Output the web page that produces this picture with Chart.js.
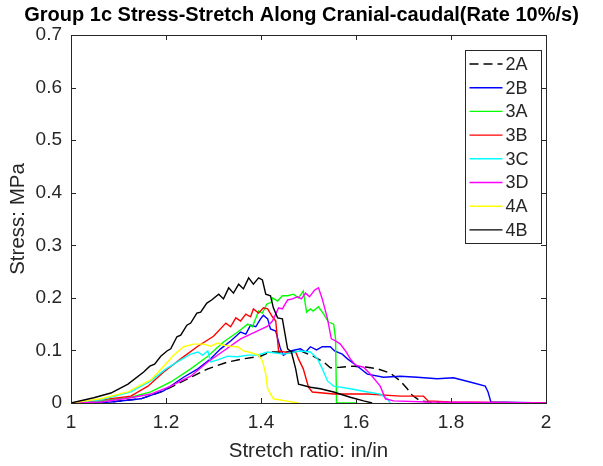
<!DOCTYPE html>
<html>
<head>
<meta charset="utf-8">
<title>Group 1c Stress-Stretch</title>
<script src="https://cdn.jsdelivr.net/npm/chart.js@4.4.1/dist/chart.umd.min.js"></script>
<style>
  html, body { margin: 0; padding: 0; background: #fff; }
  #wrap { width: 603px; height: 466px; }
</style>
</head>
<body>
<div id="wrap"><canvas id="chart" width="603" height="466"></canvas></div>
<script>
// Stress-stretch curves: [stretch ratio, stress MPa]
const seriesLabels = ['2A', '2B', '3A', '3B', '3C', '3D', '4A', '4B'];
const xTicks = [1, 1.2, 1.4, 1.6, 1.8, 2];
const yTicks = [0, 0.1, 0.2, 0.3, 0.4, 0.5, 0.6, 0.7];

const curve2A = [[1.000,0],[1.084,0.002],[1.147,0.008],[1.195,0.023],[1.246,0.046],[1.288,0.065],[1.330,0.078],[1.363,0.084],[1.399,0.089],[1.420,0.097],[1.447,0.097],[1.483,0.099],[1.510,0.089],[1.532,0.078],[1.546,0.067],[1.567,0.068],[1.595,0.070],[1.624,0.068],[1.645,0.065],[1.672,0.057],[1.693,0.042],[1.708,0.027],[1.718,0.015],[1.735,0.004],[1.777,0]];
const curve2B = [[1.000,0],[1.084,0.002],[1.147,0.008],[1.195,0.023],[1.237,0.049],[1.267,0.065],[1.294,0.084],[1.315,0.103],[1.336,0.118],[1.357,0.135],[1.368,0.131],[1.378,0.148],[1.389,0.145],[1.399,0.160],[1.405,0.167],[1.414,0.160],[1.420,0.141],[1.431,0.137],[1.441,0.103],[1.447,0.091],[1.462,0.099],[1.483,0.103],[1.494,0.097],[1.504,0.107],[1.517,0.101],[1.529,0.107],[1.546,0.107],[1.555,0.099],[1.571,0.093],[1.582,0.084],[1.603,0.070],[1.624,0.055],[1.658,0.049],[1.693,0.051],[1.729,0.049],[1.771,0.046],[1.805,0.048],[1.840,0.040],[1.872,0.032],[1.878,0.021],[1.884,0.002],[2.000,0]];
const curve3A = [[1.000,0],[1.063,0.004],[1.126,0.011],[1.168,0.021],[1.210,0.040],[1.252,0.065],[1.288,0.089],[1.321,0.116],[1.351,0.135],[1.372,0.150],[1.382,0.145],[1.395,0.175],[1.403,0.171],[1.412,0.188],[1.422,0.192],[1.424,0.200],[1.435,0.194],[1.445,0.204],[1.456,0.204],[1.468,0.207],[1.479,0.200],[1.489,0.213],[1.496,0.173],[1.504,0.179],[1.510,0.175],[1.521,0.183],[1.532,0.169],[1.542,0.154],[1.553,0.150],[1.557,0.122],[1.559,0],[1.600,0]];
const curve3B = [[1.000,0],[1.063,0.006],[1.126,0.013],[1.162,0.032],[1.195,0.059],[1.231,0.084],[1.267,0.108],[1.300,0.127],[1.326,0.152],[1.336,0.145],[1.347,0.162],[1.357,0.156],[1.368,0.169],[1.378,0.164],[1.384,0.179],[1.395,0.171],[1.405,0.181],[1.414,0.179],[1.424,0.164],[1.431,0.156],[1.435,0.118],[1.437,0.099],[1.462,0.095],[1.473,0.097],[1.479,0.084],[1.489,0.065],[1.500,0.030],[1.508,0.021],[1.553,0.017],[1.624,0.017],[1.693,0.013],[1.742,0.013],[1.752,0.004],[1.798,0.002],[2.000,0]];
const curve3C = [[1.000,0],[1.063,0.006],[1.126,0.021],[1.168,0.042],[1.200,0.065],[1.231,0.082],[1.252,0.093],[1.267,0.097],[1.277,0.091],[1.288,0.099],[1.294,0.078],[1.309,0.082],[1.330,0.089],[1.351,0.088],[1.372,0.091],[1.393,0.091],[1.414,0.097],[1.447,0.093],[1.483,0.099],[1.504,0.097],[1.519,0.084],[1.529,0.065],[1.540,0.042],[1.553,0.032],[1.588,0.027],[1.624,0.021],[1.651,0.017],[1.666,0.008],[1.672,0]];
const curve3D = [[1.000,0],[1.063,0.002],[1.126,0.010],[1.168,0.017],[1.210,0.032],[1.252,0.051],[1.288,0.078],[1.321,0.099],[1.357,0.122],[1.393,0.137],[1.414,0.146],[1.424,0.156],[1.437,0.181],[1.445,0.179],[1.456,0.196],[1.466,0.198],[1.477,0.202],[1.485,0.198],[1.494,0.209],[1.502,0.202],[1.513,0.215],[1.521,0.219],[1.529,0.198],[1.540,0.160],[1.548,0.122],[1.557,0.118],[1.567,0.112],[1.578,0.099],[1.588,0.084],[1.599,0.072],[1.616,0.068],[1.630,0.055],[1.651,0.032],[1.662,0.008],[1.679,0.004],[1.750,0.002],[2.000,0]];
const curve4A = [[1.000,0],[1.063,0.008],[1.120,0.021],[1.168,0.044],[1.195,0.070],[1.216,0.091],[1.237,0.107],[1.258,0.112],[1.279,0.112],[1.294,0.108],[1.309,0.114],[1.321,0.110],[1.336,0.108],[1.351,0.107],[1.363,0.099],[1.374,0.097],[1.395,0.091],[1.403,0.080],[1.410,0.055],[1.414,0.027],[1.426,0.008],[1.452,0.004],[1.479,0]];
const curve4B = [[1.000,0],[1.048,0.010],[1.084,0.019],[1.120,0.036],[1.153,0.059],[1.166,0.070],[1.176,0.074],[1.189,0.089],[1.202,0.099],[1.210,0.103],[1.223,0.126],[1.231,0.129],[1.244,0.148],[1.252,0.152],[1.265,0.171],[1.273,0.173],[1.286,0.190],[1.296,0.196],[1.311,0.207],[1.321,0.198],[1.332,0.219],[1.342,0.209],[1.353,0.226],[1.363,0.217],[1.374,0.238],[1.384,0.226],[1.395,0.238],[1.403,0.234],[1.410,0.207],[1.420,0.204],[1.426,0.181],[1.435,0.162],[1.445,0.160],[1.456,0.103],[1.464,0.097],[1.473,0.065],[1.479,0.036],[1.504,0.030],[1.525,0.027],[1.553,0.021],[1.588,0.011],[1.616,0.004],[1.634,0]];

const curves = [curve2A, curve2B, curve3A, curve3B, curve3C, curve3D, curve4A, curve4B];
const colors = ['#000000', '#0000ff', '#00ff00', '#ff0000', '#00ffff', '#ff00ff', '#ffff00', '#000000'];
const dashes = [[9, 5], [], [], [], [], [], [], []];

const FONT = '"Liberation Sans", Arial, Helvetica, sans-serif';
const AXIS_COLOR = '#262626';

// MATLAB-style box with inward ticks on all four sides
const boxTicks = {
    id: 'boxTicks',
    afterDatasetsDraw(chart) {
        const { ctx, chartArea: a, scales } = chart;
        ctx.save();
        ctx.strokeStyle = AXIS_COLOR;
        ctx.lineWidth = 1;
        ctx.beginPath();
        xTicks.forEach(v => {
            const px = Math.round(scales.x.getPixelForValue(v)) + 0.5;
            ctx.moveTo(px, a.bottom); ctx.lineTo(px, a.bottom - 5);
            ctx.moveTo(px, a.top); ctx.lineTo(px, a.top + 5);
        });
        yTicks.forEach(v => {
            const py = Math.round(scales.y.getPixelForValue(v)) + 0.5;
            ctx.moveTo(a.left, py); ctx.lineTo(a.left + 5, py);
            ctx.moveTo(a.right, py); ctx.lineTo(a.right - 5, py);
        });
        ctx.stroke();
        ctx.strokeRect(Math.round(a.left) + 0.5, Math.round(a.top) + 0.5,
            Math.round(a.right - a.left), Math.round(a.bottom - a.top));
        ctx.restore();
    }
};

// legend box in the upper right corner of the plot
const boxLegend = {
    id: 'boxLegend',
    afterDraw(chart) {
        const { ctx, chartArea: a } = chart;
        const x0 = Math.round(a.right) - 80.5;
        const y0 = Math.round(a.top) + 15.5;
        ctx.save();
        ctx.fillStyle = '#ffffff';
        ctx.fillRect(x0, y0, 76, 193);
        ctx.strokeStyle = AXIS_COLOR;
        ctx.lineWidth = 1;
        ctx.strokeRect(x0, y0, 76, 193);
        ctx.font = '18px ' + FONT;
        ctx.textBaseline = 'middle';
        chart.data.datasets.forEach((ds, i) => {
            const y = y0 + 13.5 + i * 23.7;
            ctx.strokeStyle = ds.borderColor;
            ctx.lineWidth = 1.4;
            ctx.setLineDash(ds.borderDash || []);
            ctx.beginPath();
            ctx.moveTo(x0 + 4, y);
            ctx.lineTo(x0 + 37, y);
            ctx.stroke();
            ctx.setLineDash([]);
            ctx.fillStyle = AXIS_COLOR;
            ctx.fillText(ds.label, x0 + 40, y + 1);
        });
        ctx.restore();
    }
};

const tickText = v => String(Math.round(v * 10) / 10);

new Chart(document.getElementById('chart'), {
    type: 'line',
    data: {
        datasets: seriesLabels.map((label, i) => ({
            label,
            data: curves[i].map(p => ({ x: p[0], y: p[1] })),
            borderColor: colors[i],
            borderDash: dashes[i],
            borderWidth: 1.4,
            pointRadius: 0,
            tension: 0,
            fill: false,
            order: seriesLabels.length - 1 - i
        }))
    },
    options: {
        responsive: false,
        animation: false,
        events: [],
        layout: { padding: 0 },
        plugins: {
            legend: { display: false },
            tooltip: { enabled: false },
            title: {
                display: true,
                text: 'Group 1c Stress-Stretch Along Cranial-caudal(Rate 10%/s)',
                color: '#000000',
                font: { family: FONT, size: 20, weight: 'bold', lineHeight: 1.2 },
                padding: { top: 3, bottom: 8 }
            }
        },
        scales: {
            x: {
                type: 'linear',
                position: 'bottom',
                min: 1,
                max: 2,
                grid: { display: false, drawTicks: false },
                border: { display: false },
                afterBuildTicks: s => { s.ticks = xTicks.map(v => ({ value: v })); },
                afterFit: s => { s.height = 63; },
                ticks: {
                    color: AXIS_COLOR,
                    padding: 8,
                    maxRotation: 0,
                    callback: tickText,
                    font: { family: FONT, size: 19 }
                },
                title: {
                    display: true,
                    text: 'Stretch ratio: in/in',
                    color: AXIS_COLOR,
                    font: { family: FONT, size: 20.5 },
                    padding: { top: 0, bottom: 2 }
                }
            },
            y: {
                type: 'linear',
                position: 'left',
                min: 0,
                max: 0.7,
                grid: { display: false, drawTicks: false },
                border: { display: false },
                afterBuildTicks: s => { s.ticks = yTicks.map(v => ({ value: v })); },
                afterFit: s => { s.width = 71; },
                ticks: {
                    color: AXIS_COLOR,
                    padding: 9,
                    callback: tickText,
                    font: { family: FONT, size: 19 }
                },
                title: {
                    display: true,
                    text: 'Stress: MPa',
                    color: AXIS_COLOR,
                    font: { family: FONT, size: 20.5 },
                    padding: { top: 6, bottom: 0 }
                }
            },
            y2: {
                type: 'linear',
                position: 'right',
                display: true,
                grid: { display: false, drawTicks: false },
                border: { display: false },
                ticks: { display: false },
                afterFit: s => { s.width = 57; }
            }
        }
    },
    plugins: [boxTicks, boxLegend]
});
</script>
</body>
</html>
